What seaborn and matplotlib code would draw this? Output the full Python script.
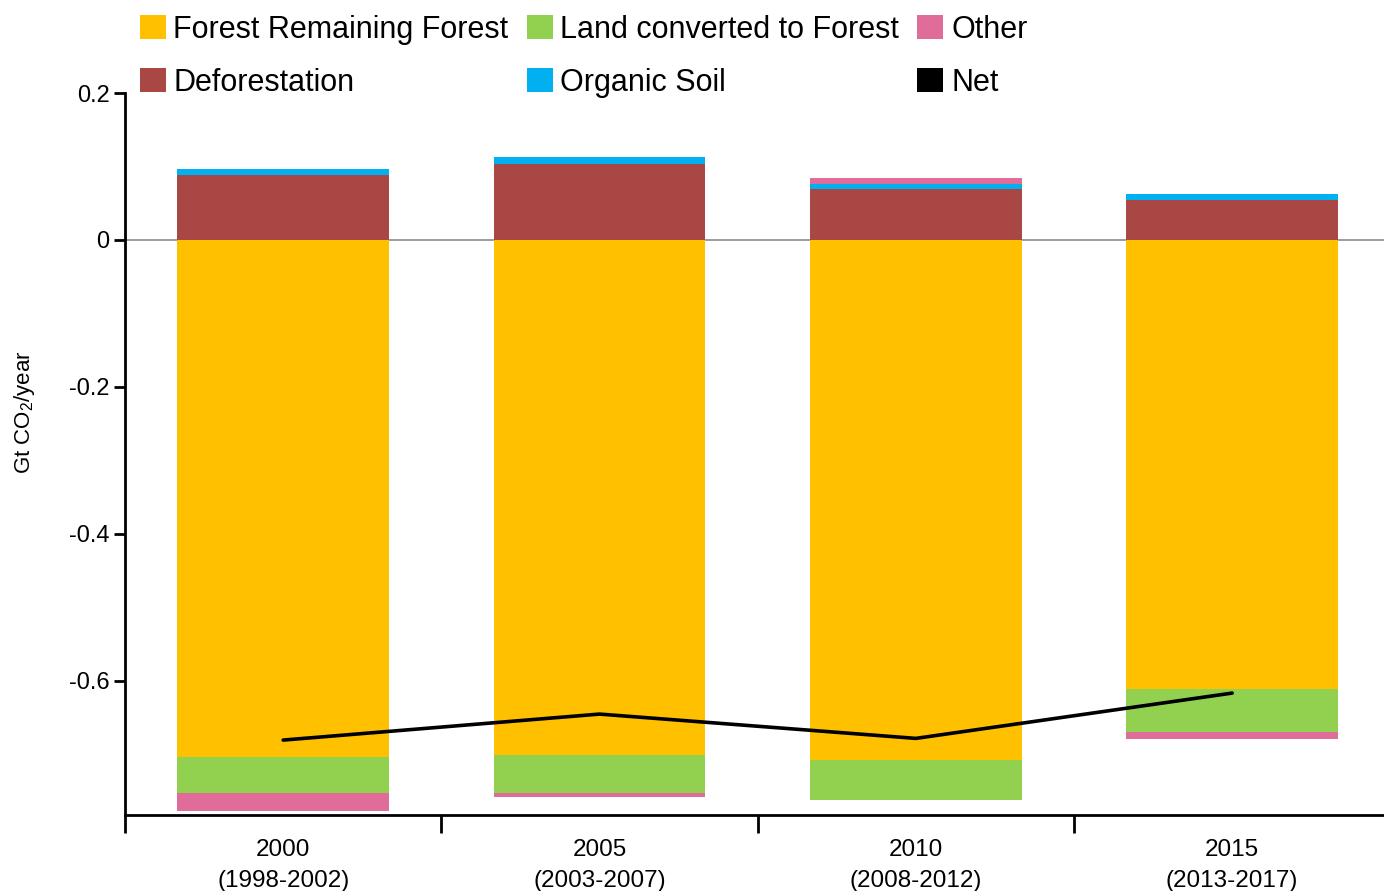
import numpy as np
import pandas as pd
import seaborn as sns
import matplotlib.pyplot as plt
from matplotlib.patches import Patch
from matplotlib.ticker import FixedLocator, FuncFormatter

# Dados (Gt CO2/ano)
categories = ["2000\n(1998-2002)", "2005\n(2003-2007)", "2010\n(2008-2012)", "2015\n(2013-2017)"]
forest_remaining = [-0.7045, -0.7014, -0.7077, -0.611]
land_converted = [-0.049, -0.0517, -0.0553, -0.0586]
other = [-0.0237, -0.006, 0.0077, -0.0095]
deforestation = [0.0887, 0.104, 0.0694, 0.054]
organic_soil = [0.0082, 0.0086, 0.0072, 0.0082]
net = [-0.681, -0.6456, -0.6787, -0.617]

colors = {
    "Forest Remaining Forest": "#FFC000",
    "Land converted to Forest": "#92D050",
    "Other": "#E06C99",
    "Deforestation": "#A94745",
    "Organic Soil": "#00B0F0",
    "Net": "#000000",
}

sns.set_style("white")
plt.rcParams["font.family"] = ["Liberation Sans", "DejaVu Sans"]
plt.rcParams["mathtext.fontset"] = "custom"
plt.rcParams["mathtext.rm"] = "Liberation Sans"
plt.rcParams["text.color"] = "black"
plt.rcParams["axes.labelcolor"] = "black"
plt.rcParams["xtick.color"] = "black"
plt.rcParams["ytick.color"] = "black"

fig = plt.figure(figsize=(13.84, 8.91), dpi=100)
ax = fig.add_axes([0.0903, 0.0853, 0.9097, 0.8103])

# Empilhamento: positivos para cima, negativos para baixo
layers = [
    ("Forest Remaining Forest", forest_remaining),
    ("Deforestation", deforestation),
    ("Land converted to Forest", land_converted),
    ("Organic Soil", organic_soil),
    ("Other", other),
]
pos_base = np.zeros(len(categories))
neg_base = np.zeros(len(categories))
for name, vals in layers:
    vals = np.array(vals)
    bottom = np.where(vals >= 0, pos_base, neg_base)
    df = pd.DataFrame({"period": categories, "value": vals})
    sns.barplot(data=df, x="period", y="value", color=colors[name], saturation=1,
                width=0.67, errorbar=None, bottom=bottom, linewidth=0, ax=ax)
    pos_base = pos_base + np.where(vals >= 0, vals, 0)
    neg_base = neg_base + np.where(vals < 0, vals, 0)

# Linha do saldo líquido
sns.pointplot(x=categories, y=net, color="black", markers="", linewidth=2.6,
              errorbar=None, ax=ax)

ax.axhline(0, color="#8c8c8c", linewidth=1.2, zorder=0.5)

ax.set_xlim(-0.5, 3.48)
ax.set_ylim(-0.783, 0.2)
ax.set_yticks([0.2, 0, -0.2, -0.4, -0.6])
ax.yaxis.set_major_formatter(FuncFormatter(lambda v, p: "0" if abs(v) < 1e-9 else f"{v:.1f}".replace("\u2212", "-")))
ax.set_xticks(range(len(categories)))
ax.set_xticklabels(categories, fontsize=17.5, linespacing=1.55)
ax.xaxis.set_minor_locator(FixedLocator([-0.5, 0.5, 1.5, 2.5]))
ax.tick_params(axis="x", which="major", length=0, pad=17, bottom=True)
ax.tick_params(axis="x", which="minor", length=13, width=2, direction="out",
               color="black", bottom=True)
ax.tick_params(axis="y", length=8, width=2, direction="out", color="black",
               labelsize=17, pad=3, left=True)
ax.set_xlabel("")
ax.set_ylabel("Gt CO$_2$/year", fontsize=16)
ax.yaxis.set_label_coords(-0.07, 0.558)

sns.despine(ax=ax)
for side in ["left", "bottom"]:
    ax.spines[side].set_linewidth(2)
    ax.spines[side].set_color("black")

order = ["Forest Remaining Forest", "Deforestation", "Land converted to Forest",
         "Organic Soil", "Other", "Net"]
handles = [Patch(facecolor=colors[n], edgecolor="none", label=n) for n in order]
fig.legend(handles=handles, ncol=3, loc="upper left", bbox_to_anchor=(0.092, 0.997),
           frameon=False, fontsize=22, handlelength=0.85, handleheight=0.85,
           handletextpad=0.25, columnspacing=0.6, labelspacing=0.75, borderaxespad=0)

fig.savefig("out.png", dpi=100)
